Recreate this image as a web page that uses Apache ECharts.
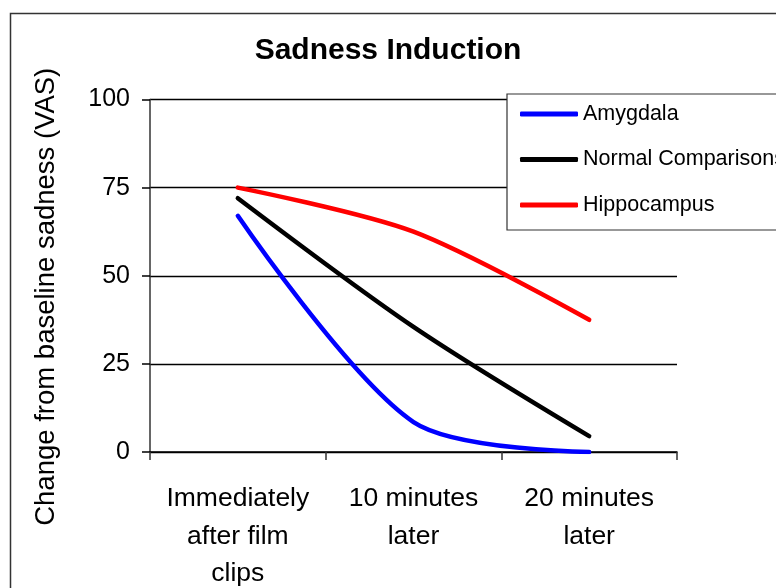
<!DOCTYPE html>
<html>
<head>
<meta charset="utf-8">
<title>Sadness Induction</title>
<script src="https://cdn.jsdelivr.net/npm/echarts@6/dist/echarts.min.js"></script>
<style>
  html, body { margin: 0; padding: 0; background: #fff; }
</style>
</head>
<body>
<div id="myChart" style="width: 776px; height: 588px;"></div>
<script>
  // categories on the x axis
  let categories = ['Immediately\nafter film\nclips', '10 minutes\nlater', '20 minutes\nlater'];
  // change from baseline sadness (VAS)
  let amygdala = [67, 8.5, 0];
  let normalComparisons = [72, 35.5, 4.5];
  let hippocampus = [75, 62.5, 37.5];
  let yTicks = [0, 25, 50, 75, 100];

  let font = '"Liberation Sans", Arial, sans-serif';

  let myChart = echarts.init(document.getElementById('myChart'));

  function makeLine(name, values, color) {
    return {
      name: name,
      type: 'line',
      data: values,
      smooth: 0.3,
      symbol: 'none',
      lineStyle: { color: color, width: 4.5, cap: 'round', join: 'round' },
      itemStyle: { color: color }
    };
  }

  let options = {
    animation: false,
    backgroundColor: '#fff',
    textStyle: { fontFamily: font },
    title: {
      text: 'Sadness Induction',
      left: 'center',
      top: 31,
      textStyle: { fontSize: 30, fontWeight: 'bold', color: '#000', fontFamily: font }
    },
    graphic: [{
      type: 'rect',
      left: 8,
      top: 11,
      z: -10,
      shape: { width: 900, height: 700 },
      style: { fill: 'none', stroke: '#333', lineWidth: 1.5 }
    }],
    legend: {
      orient: 'vertical',
      left: 507,
      top: 94,
      padding: [9, 20, 14, 13],
      itemGap: 23.5,
      itemWidth: 58,
      itemHeight: 5,
      icon: 'roundRect',
      backgroundColor: '#fff',
      borderColor: '#333',
      borderWidth: 1.2,
      borderRadius: 0,
      textStyle: { fontSize: 21.5, color: '#000', fontFamily: font },
      data: ['Amygdala', 'Normal Comparisons', 'Hippocampus']
    },
    grid: {
      left: 150,
      right: 99,
      top: 99.5,
      bottom: 136,
      containLabel: false,
      outerBoundsMode: 'none'
    },
    xAxis: {
      type: 'category',
      data: categories,
      boundaryGap: true,
      axisLine: { lineStyle: { color: '#000', width: 1.5 } },
      axisTick: { show: true, interval: 0, length: 8, lineStyle: { color: '#333', width: 1.5 } },
      axisLabel: {
        interval: 0,
        margin: 28,
        fontSize: 26.5,
        lineHeight: 37.5,
        color: '#000',
        fontFamily: font
      }
    },
    yAxis: {
      type: 'value',
      min: yTicks[0],
      max: yTicks[yTicks.length - 1],
      interval: 25,
      name: 'Change from baseline sadness (VAS)',
      nameLocation: 'middle',
      nameGap: 90,
      nameTextStyle: { fontSize: 27.5, color: '#000', fontFamily: font, padding: [0, 42, 0, 0] },
      axisLine: { show: true, lineStyle: { color: '#333', width: 1.5 } },
      axisTick: { show: true, length: 8, lineStyle: { color: '#000', width: 1.5 } },
      axisLabel: { margin: 20, fontSize: 25, color: '#000', fontFamily: font },
      splitLine: { show: true, lineStyle: { color: '#000', width: 1.4 } }
    },
    series: [
      makeLine('Amygdala', amygdala, '#0000ff'),
      makeLine('Normal Comparisons', normalComparisons, '#000000'),
      makeLine('Hippocampus', hippocampus, '#ff0000')
    ]
  };
  myChart.setOption(options);
</script>
</body>
</html>
